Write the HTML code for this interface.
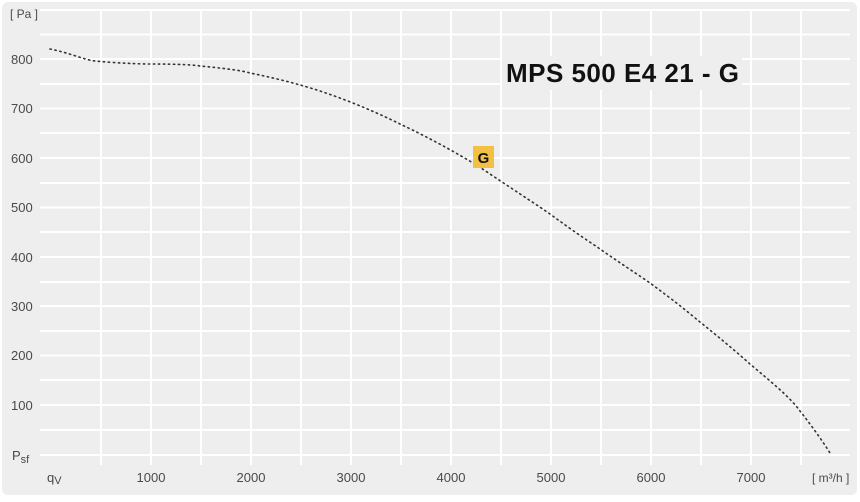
<!DOCTYPE html>
<html><head><style>
body{margin:0;background:#fff;width:860px;height:497px;overflow:hidden}
</style></head><body>
<svg width="860" height="497" xmlns="http://www.w3.org/2000/svg" style="font-family:'Liberation Sans',sans-serif">
<rect x="2" y="2" width="855" height="493" rx="6" fill="#eeeeee"/>
<g stroke="#ffffff" stroke-width="2">
<line x1="40" y1="10" x2="850" y2="10"/>
<line x1="40" y1="34.5" x2="850" y2="34.5"/>
<line x1="40" y1="59" x2="850" y2="59"/>
<line x1="40" y1="84" x2="850" y2="84"/>
<line x1="40" y1="108.5" x2="850" y2="108.5"/>
<line x1="40" y1="133" x2="850" y2="133"/>
<line x1="40" y1="158" x2="850" y2="158"/>
<line x1="40" y1="183" x2="850" y2="183"/>
<line x1="40" y1="207.5" x2="850" y2="207.5"/>
<line x1="40" y1="232" x2="850" y2="232"/>
<line x1="40" y1="257" x2="850" y2="257"/>
<line x1="40" y1="282" x2="850" y2="282"/>
<line x1="40" y1="306" x2="850" y2="306"/>
<line x1="40" y1="331" x2="850" y2="331"/>
<line x1="40" y1="355.5" x2="850" y2="355.5"/>
<line x1="40" y1="380" x2="850" y2="380"/>
<line x1="40" y1="405" x2="850" y2="405"/>
<line x1="40" y1="430" x2="850" y2="430"/>
<line x1="40" y1="455" x2="850" y2="455"/>
<line x1="101" y1="10" x2="101" y2="465"/>
<line x1="151" y1="10" x2="151" y2="465"/>
<line x1="201" y1="10" x2="201" y2="465"/>
<line x1="251" y1="10" x2="251" y2="465"/>
<line x1="301" y1="10" x2="301" y2="465"/>
<line x1="351" y1="10" x2="351" y2="465"/>
<line x1="401" y1="10" x2="401" y2="465"/>
<line x1="451" y1="10" x2="451" y2="465"/>
<line x1="501" y1="10" x2="501" y2="465"/>
<line x1="551" y1="10" x2="551" y2="465"/>
<line x1="601" y1="10" x2="601" y2="465"/>
<line x1="651" y1="10" x2="651" y2="465"/>
<line x1="701" y1="10" x2="701" y2="465"/>
<line x1="751" y1="10" x2="751" y2="465"/>
<line x1="801" y1="10" x2="801" y2="465"/>
</g>
<g fill="#4a4a4a" font-size="13">
<text x="10" y="18" font-size="12">[ Pa ]</text>
<g text-anchor="start">
<text x="11" y="64">800</text><text x="11" y="113">700</text><text x="11" y="163">600</text>
<text x="11" y="212">500</text><text x="11" y="262">400</text><text x="11" y="311">300</text>
<text x="11" y="360">200</text><text x="11" y="410">100</text>
</g>
<text x="12" y="460">P<tspan font-size="11" dy="3">sf</tspan></text>
<text x="47" y="482">q<tspan font-size="11" dy="2">V</tspan></text>
<g text-anchor="middle">
<text x="151" y="482">1000</text><text x="251" y="482">2000</text><text x="351" y="482">3000</text>
<text x="451" y="482">4000</text><text x="551" y="482">5000</text><text x="651" y="482">6000</text>
<text x="751" y="482">7000</text>
</g>
<text x="812" y="482" font-size="12">[ m³/h ]</text>
</g>
<path d="M50,49 C70,53 85,60 95,61 C115,63 140,64 150,64 C180,64 195,65 200,66 C220,68 240,70 250,73 C270,77 290,82 300,85 C330,93 370,109 400,124 C430,138 470,160 490,174 C520,194 540,207 550,214 C580,236 590,242 600,249 C620,263 640,276 650,283 C680,305 690,314 700,322 C720,338 740,355 750,364 C770,381 790,397 800,411 C815,430 825,445 830,453" fill="none" stroke="#333" stroke-width="1.6" stroke-dasharray="1.3 3.7" stroke-linecap="round"/>
<rect x="502" y="56" width="240" height="34" fill="#eeeeee"/>
<text x="506" y="82" font-size="26" font-weight="bold" fill="#111" textLength="233">MPS 500 E4 21 - G</text>
<rect x="473" y="146" width="21" height="22" fill="#f2c043"/>
<text x="483.5" y="163" font-size="15" font-weight="bold" fill="#111" text-anchor="middle">G</text>
</svg>
</body></html>
